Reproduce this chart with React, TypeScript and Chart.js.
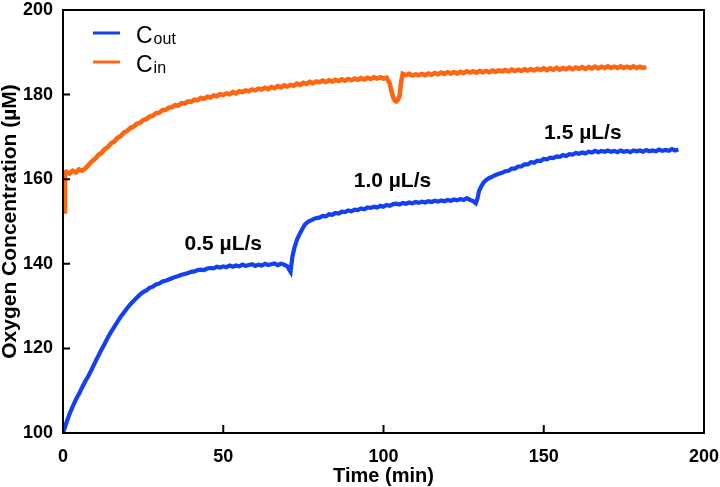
import React, { useEffect, useRef } from "react";
import { Chart, registerables } from "chart.js";

Chart.register(...registerables);

const xTicks = [0, 50, 100, 150, 200];
const yTicks = [100, 120, 140, 160, 180, 200];
const seriesSubscripts = ["out", "in"];
const seriesColors = ["#1340f0", "#ff6612"];

// C_out: [time (min), concentration (µM)]
const cOut: [number, number][] = [
  [0, 100.0], [1, 102.3], [2, 104.4], [3, 106.2], [4, 107.9], [5, 109.3], [6, 110.8], [7, 112.3], [8, 113.6], [9, 115.1],
  [10, 116.7], [11, 118.2], [12, 119.7], [13, 121.1], [14, 122.6], [15, 123.9], [16, 125.1], [17, 126.3], [18, 127.5], [19, 128.5],
  [20, 129.5], [21, 130.4], [22, 131.2], [23, 132.0], [24, 132.7], [25, 133.3], [26, 133.7], [27, 134.3], [28, 134.6], [29, 135.1],
  [30, 135.3], [31, 135.8], [32, 136.0], [33, 136.3], [34, 136.6], [35, 136.9], [36, 137.1], [37, 137.4], [38, 137.6], [39, 137.8],
  [40, 138.1], [41, 138.2], [42, 138.5], [43, 138.6], [44, 138.5], [45, 138.9], [46, 139.0], [47, 138.9], [48, 139.3], [49, 139.1],
  [50, 139.4], [51, 139.2], [52, 139.6], [53, 139.3], [54, 139.6], [55, 139.4], [56, 139.8], [57, 139.5], [58, 139.7], [59, 139.9],
  [60, 139.5], [61, 139.8], [62, 139.6], [63, 140.0], [64, 139.7], [65, 139.9], [66, 140.1], [67, 139.7], [68, 140.0], [69, 139.8],
  [70, 139.4], [70.5, 138.7], [71, 138.1], [71.6, 141.8], [72.2, 143.8], [73, 145.7], [74, 147.3], [74.7, 148.3], [75.5, 149.3], [76.6, 150.0],
  [78, 150.5], [79, 150.8], [80, 150.9], [81, 151.3], [82, 151.2], [83, 151.7], [84, 151.6], [85, 152.0], [86, 151.9], [87, 152.3],
  [88, 152.2], [89, 152.6], [90, 152.4], [91, 152.8], [92, 152.7], [93, 153.1], [94, 152.9], [95, 153.3], [96, 153.2], [97, 153.5],
  [98, 153.3], [99, 153.7], [100, 153.5], [101, 153.9], [102, 153.7], [103, 154.1], [104, 154.2], [105, 154.0], [106, 154.4], [107, 154.2],
  [108, 154.5], [109, 154.3], [110, 154.6], [111, 154.4], [112, 154.7], [113, 154.5], [114, 154.8], [115, 154.6], [116, 154.9], [117, 154.7],
  [118, 155.0], [119, 154.8], [120, 155.1], [121, 154.9], [122, 155.2], [123, 155.0], [124, 155.3], [125, 155.1], [126, 155.5], [127, 155.1],
  [128, 154.8], [128.8, 154.3], [129.3, 155.4], [129.8, 157.2], [130.5, 158.3], [131.2, 159.2], [132, 159.8], [133, 160.3], [134, 160.6], [135, 161.0],
  [136, 161.3], [137, 161.5], [138, 161.9], [139, 162.0], [140, 162.5], [141, 162.5], [142, 163.0], [143, 163.0], [144, 163.5], [145, 163.5],
  [146, 164.0], [147, 163.9], [148, 164.4], [149, 164.3], [150, 164.8], [151, 164.7], [152, 165.1], [153, 165.0], [154, 165.4], [155, 165.3],
  [156, 165.7], [157, 165.5], [158, 165.9], [159, 165.8], [160, 166.2], [161, 166.0], [162, 166.3], [163, 166.1], [164, 166.5], [165, 166.3],
  [166, 166.7], [167, 166.4], [168, 166.7], [169, 166.5], [170, 166.8], [171, 166.5], [172, 166.7], [173, 166.4], [174, 166.8], [175, 166.5],
  [176, 166.7], [177, 166.4], [178, 166.8], [179, 166.6], [180, 166.8], [181, 166.5], [182, 166.9], [183, 166.6], [184, 166.8], [185, 166.6],
  [186, 167.0], [187, 166.7], [188, 166.9], [189, 166.7], [190, 167.1], [191, 166.8], [192, 167.0],
];

// C_in: [time (min), concentration (µM)]
const cIn: [number, number][] = [
  [0.1, 153.5], [0.4, 152.4], [0.6, 161.5], [1, 161.8], [2, 161.3], [3, 162.0], [4, 161.6], [5, 162.3], [6, 162.0], [7, 162.6],
  [8, 163.4], [9, 164.2], [10, 164.8], [11, 165.7], [12, 166.2], [13, 167.1], [14, 167.6], [15, 168.5], [16, 168.9], [17, 169.8],
  [18, 170.2], [19, 171.0], [20, 171.4], [21, 172.1], [22, 172.4], [23, 173.1], [24, 173.3], [25, 174.0], [26, 174.2], [27, 174.8],
  [28, 175.0], [29, 175.6], [30, 175.7], [31, 176.3], [32, 176.4], [33, 176.9], [34, 177.0], [35, 177.5], [36, 177.4], [37, 178.0],
  [38, 177.9], [39, 178.4], [40, 178.3], [41, 178.8], [42, 178.7], [43, 179.2], [44, 179.0], [45, 179.5], [46, 179.3], [47, 179.8],
  [48, 179.6], [49, 180.1], [50, 179.9], [51, 180.3], [52, 180.1], [53, 180.6], [54, 180.3], [55, 180.8], [56, 180.6], [57, 181.0],
  [58, 180.8], [59, 181.2], [60, 181.0], [61, 181.4], [62, 181.2], [63, 181.6], [64, 181.3], [65, 181.8], [66, 181.5], [67, 182.0],
  [68, 181.7], [69, 182.2], [70, 181.9], [71, 182.3], [72, 182.1], [73, 182.6], [74, 182.3], [75, 182.8], [76, 182.5], [77, 183.0],
  [78, 182.7], [79, 183.1], [80, 182.9], [81, 183.3], [82, 183.0], [83, 183.4], [84, 183.1], [85, 183.5], [86, 183.2], [87, 183.6],
  [88, 183.3], [89, 183.7], [90, 183.4], [91, 183.8], [92, 183.5], [93, 183.9], [94, 183.6], [95, 184.0], [96, 183.7], [97, 184.1],
  [98, 183.8], [99, 184.1], [100, 183.8], [101, 184.0], [102, 182.5], [102.5, 180.8], [103, 179.4], [103.5, 178.6], [104, 178.4], [104.5, 178.8],
  [105, 179.6], [105.5, 183.0], [106, 184.9], [107, 184.6], [108, 184.9], [109, 184.5], [110, 184.8], [111, 184.6], [112, 184.9], [113, 184.6],
  [114, 185.0], [115, 184.7], [116, 185.1], [117, 184.8], [118, 185.2], [119, 184.9], [120, 185.3], [121, 185.0], [122, 185.3], [123, 185.0],
  [124, 185.4], [125, 185.1], [126, 185.5], [127, 185.2], [128, 185.5], [129, 185.2], [130, 185.6], [131, 185.3], [132, 185.6], [133, 185.3],
  [134, 185.7], [135, 185.4], [136, 185.7], [137, 185.5], [138, 185.8], [139, 185.5], [140, 185.9], [141, 185.6], [142, 185.9], [143, 185.6],
  [144, 186.0], [145, 185.7], [146, 186.0], [147, 185.7], [148, 186.1], [149, 185.8], [150, 186.2], [151, 185.8], [152, 186.2], [153, 185.9],
  [154, 186.3], [155, 185.9], [156, 186.3], [157, 186.0], [158, 186.4], [159, 186.0], [160, 186.4], [161, 186.1], [162, 186.5], [163, 186.1],
  [164, 186.5], [165, 186.2], [166, 186.6], [167, 186.2], [168, 186.6], [169, 186.3], [170, 186.7], [171, 186.3], [172, 186.6], [173, 186.3],
  [174, 186.7], [175, 186.3], [176, 186.6], [177, 186.3], [178, 186.7], [179, 186.3], [180, 186.6], [181, 186.3], [182, 186.5],
];

const flowLabels = ["0.5 µL/s", "1.0 µL/s", "1.5 µL/s"];
const flowLabelAt: [number, number][] = [[50, 144.7], [102.8, 159.6], [162.2, 170.9]];

const FONT = '"Liberation Sans", Arial, sans-serif';

const framePlugin = {
  id: "frameAndNotes",
  afterDraw(chart: any) {
    const { ctx, chartArea: a, scales } = chart;
    ctx.save();
    ctx.strokeStyle = "#000";
    ctx.lineWidth = 2;
    ctx.strokeRect(a.left, a.top, a.right - a.left, a.bottom - a.top);
    ctx.beginPath();
    for (const v of xTicks) {
      const px = scales.x.getPixelForValue(v);
      ctx.moveTo(px, a.bottom);
      ctx.lineTo(px, a.bottom - 8);
    }
    for (const v of yTicks) {
      const py = scales.y.getPixelForValue(v);
      ctx.moveTo(a.left, py);
      ctx.lineTo(a.left + 7, py);
    }
    ctx.stroke();

    // flow-rate annotations
    ctx.fillStyle = "#000";
    ctx.font = `bold 21px ${FONT}`;
    ctx.textAlign = "center";
    ctx.textBaseline = "middle";
    flowLabels.forEach((t, i) => {
      ctx.fillText(t, scales.x.getPixelForValue(flowLabelAt[i][0]), scales.y.getPixelForValue(flowLabelAt[i][1]));
    });

    // legend
    ctx.textAlign = "left";
    ctx.textBaseline = "alphabetic";
    chart.data.datasets.forEach((ds: any, i: number) => {
      const y = a.top + 23 + i * 29;
      ctx.strokeStyle = ds.borderColor;
      ctx.lineWidth = 3;
      ctx.beginPath();
      ctx.moveTo(a.left + 30, y);
      ctx.lineTo(a.left + 57, y);
      ctx.stroke();
      ctx.fillStyle = "#000";
      ctx.font = `23px ${FONT}`;
      const cx = a.left + 73;
      ctx.fillText("C", cx, y + 10);
      const w = ctx.measureText("C").width;
      ctx.font = `16px ${FONT}`;
      ctx.fillText(seriesSubscripts[i], cx + w + 1, y + 11);
    });
    ctx.restore();
  },
};

export default function App() {
  const ref = useRef<HTMLCanvasElement | null>(null);
  useEffect(() => {
    document.body.style.margin = "0";
    const canvas = ref.current;
    if (!canvas) return;
    const tickFont = { family: FONT, size: 18, weight: "bold" as const, lineHeight: 1 };
    const xTitleFont = { family: FONT, size: 20, weight: "bold" as const, lineHeight: 1 };
    const yTitleFont = { family: FONT, size: 21, weight: "bold" as const, lineHeight: 1 };
    const chart = new Chart(canvas, {
      type: "line",
      data: {
        datasets: [
          {
            label: "C_out",
            data: cOut.map(([x, y]) => ({ x, y })),
            borderColor: seriesColors[0],
            backgroundColor: seriesColors[0],
            borderWidth: 4.2,
            pointRadius: 0,
            tension: 0,
          },
          {
            label: "C_in",
            data: cIn.map(([x, y]) => ({ x, y })),
            borderColor: seriesColors[1],
            backgroundColor: seriesColors[1],
            borderWidth: 4.6,
            pointRadius: 0,
            tension: 0,
          },
        ],
      },
      options: {
        animation: false,
        responsive: false,
        devicePixelRatio: 1,
        layout: { padding: { top: 10, right: 16, left: 0, bottom: 0 } },
        plugins: { legend: { display: false }, tooltip: { enabled: false } },
        scales: {
          x: {
            type: "linear",
            min: 0,
            max: 200,
            afterBuildTicks: (s: any) => {
              s.ticks = xTicks.map((v) => ({ value: v }));
            },
            afterFit: (s: any) => {
              s.height = 54;
              s.paddingLeft = 0;
              s.paddingRight = 0;
            },
            grid: { display: false },
            border: { display: false },
            ticks: { font: tickFont, color: "#000", padding: 7, maxRotation: 0 },
            title: {
              display: true,
              text: "Time (min)",
              font: xTitleFont,
              color: "#000",
              padding: { top: 0, bottom: 1 },
            },
          },
          y: {
            type: "linear",
            min: 100,
            max: 200,
            afterBuildTicks: (s: any) => {
              s.ticks = yTicks.map((v) => ({ value: v }));
            },
            afterFit: (s: any) => {
              s.width = 63;
              s.paddingTop = 0;
              s.paddingBottom = 0;
            },
            grid: { display: false },
            border: { display: false },
            ticks: { font: tickFont, color: "#000", padding: 2 },
            title: {
              display: true,
              text: "Oxygen Concentration (µM)",
              font: yTitleFont,
              color: "#000",
              padding: { top: 0, bottom: 0 },
            },
          },
        },
      },
      plugins: [framePlugin],
    });
    return () => chart.destroy();
  }, []);
  return (
    <div style={{ width: 720, height: 487, background: "#fff" }}>
      <canvas ref={ref} width={720} height={487} style={{ display: "block" }} />
    </div>
  );
}
